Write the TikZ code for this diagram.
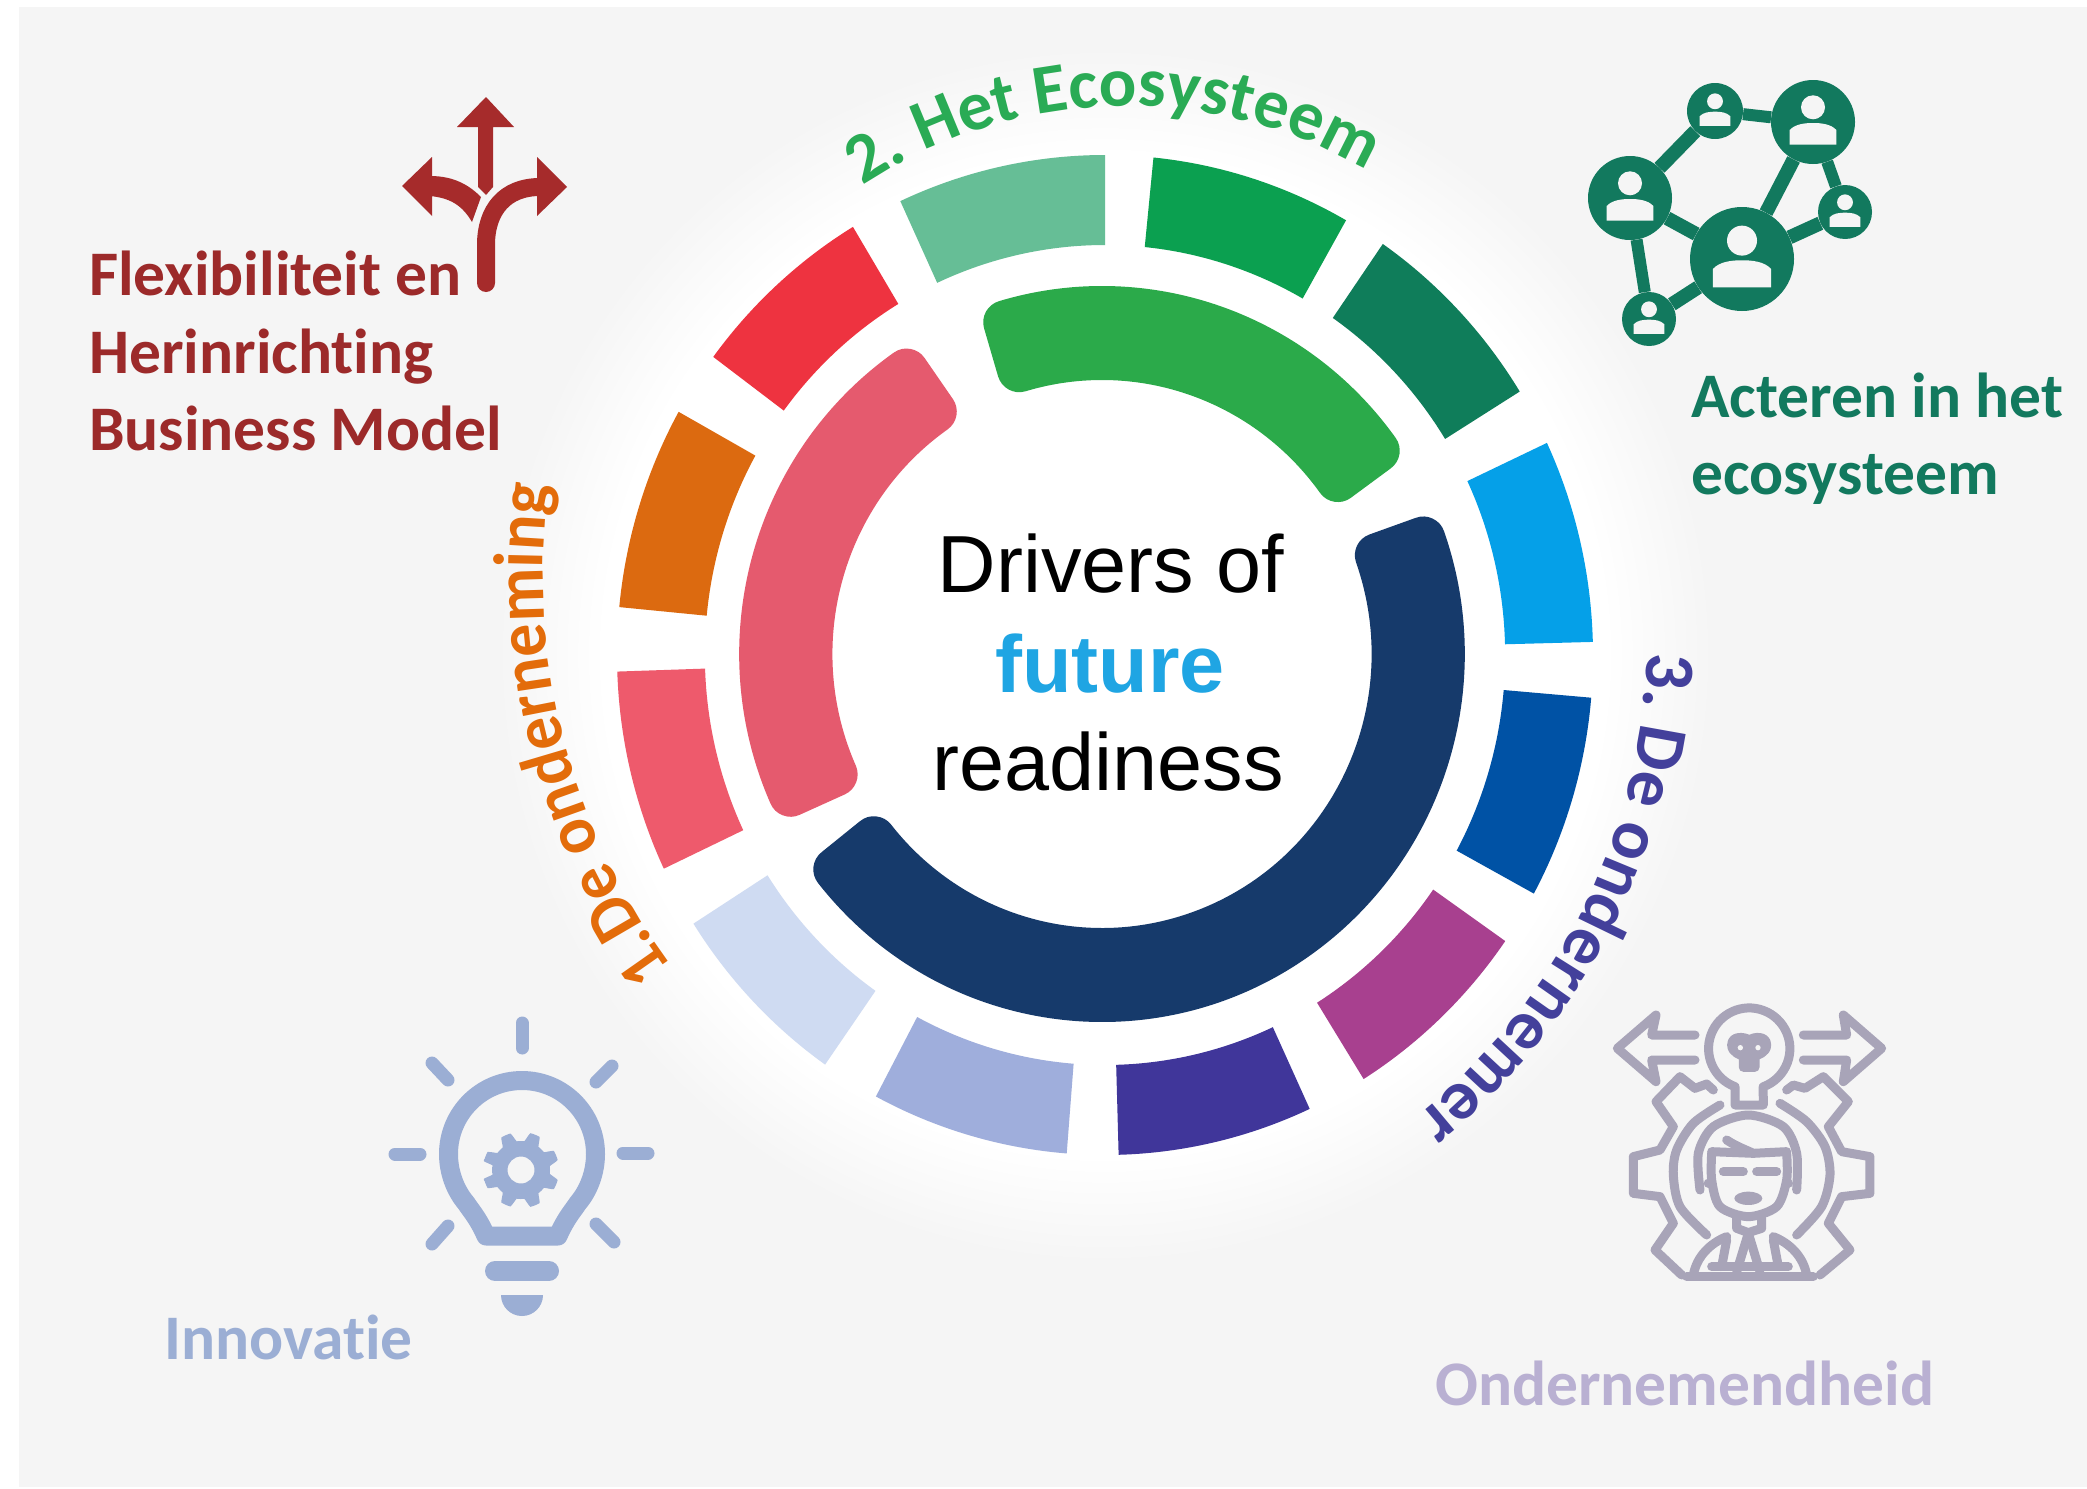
\documentclass[tikz,border=0pt]{standalone}
\usepackage{fontspec}
\setmainfont{Carlito}[Ligatures=NoCommon]
\newfontfamily\hfam{Liberation Sans}
\newfontfamily\arcA{Carlito}[FakeStretch=1.0]
\newfontfamily\arcB{Carlito}[FakeStretch=1.0]
\newfontfamily\arcC{Carlito}[FakeStretch=0.945]
\usetikzlibrary{decorations.text,shapes.geometric}
\definecolor{bgc}{HTML}{F5F5F5}
\definecolor{cFlex}{HTML}{9C2A2A}
\definecolor{cArrow}{HTML}{A62B2B}
\definecolor{cAct}{HTML}{12795E}
\definecolor{cInn}{HTML}{9BAED4}
\definecolor{cOnd}{HTML}{B9B0D2}
\definecolor{cOne}{HTML}{E36C0A}
\definecolor{cTwo}{HTML}{2AAB55}
\definecolor{cThree}{HTML}{43409B}
\definecolor{cIcon}{HTML}{A8A4B8}
\definecolor{cFuture}{HTML}{1FA5E3}
\definecolor{sA}{HTML}{66BE96}
\definecolor{sB}{HTML}{0BA050}
\definecolor{sC}{HTML}{0F7D5A}
\definecolor{sD}{HTML}{05A0E8}
\definecolor{sE}{HTML}{0052A5}
\definecolor{sF}{HTML}{A8408F}
\definecolor{sG}{HTML}{40369A}
\definecolor{sH}{HTML}{9FAEDC}
\definecolor{sI}{HTML}{CFDBF2}
\definecolor{sJ}{HTML}{EE5A6C}
\definecolor{sK}{HTML}{DC6A10}
\definecolor{sL}{HTML}{EE3340}
\definecolor{iG}{HTML}{2BAA4A}
\definecolor{iP}{HTML}{E55A6E}
\definecolor{iN}{HTML}{163A6B}
\pgfdeclareradialshading{glowring}{\pgfpoint{0bp}{0bp}}{rgb(0bp)=(1,1,1);rgb(20.5bp)=(1,1,1);rgb(25bp)=(0.96,0.96,0.96);rgb(50bp)=(0.96,0.96,0.96)}
\newcommand{\seg}[3]{\fill[#3] (#1:410) arc (#1:#2:410) -- (#2:500) arc (#2:#1:500) -- cycle;}
\newcommand{\ringarc}[3]{\filldraw[#3,line width=44pt,line join=round] (#1:296) arc (#1:#2:296) -- (#2:346) arc (#2:#1:346) -- cycle;}
\newcommand{\personglyph}[3]{\begin{scope}[shift={(#1,#2)},scale=#3]
\fill[bgc] (0,14.7) circle (12);
\fill[bgc] (-23.3,-22.7) -- (-23.3,-8) .. controls (-18,-2) and (-8,-1) .. (0,-1) .. controls (8,-1) and (18,-2) .. (23.3,-8) -- (23.3,-22.7) -- cycle;
\end{scope}}
\tikzset{
 lab/.style={anchor=base west,inner sep=0pt,font=\fontsize{63.5}{70}\selectfont\bfseries},
 mid/.style={anchor=base,inner sep=0pt,font=\hfam\fontsize{81}{90}\selectfont},
 netnode/.style={circle,fill=cAct,inner sep=0pt,minimum size=#1},
 netedge/.style={draw=cAct,line width=12pt},
 netwide/.style={draw=cAct,line width=14pt},
 ray/.style={draw=cInn,line width=13pt,line cap=round},
 sketch/.style={draw=cIcon,line width=9pt,line join=round,line cap=round},
}
\begin{document}
\begin{tikzpicture}[x=1pt,y=1pt]
\useasboundingbox (0,0) rectangle (2087,-1488);
\fill[white] (0,0) rectangle (2087,-1488);
\fill[bgc] (19,-7) rectangle (2087,-1487);
\shade[shading=glowring] (1105,-655) circle (610);
% outer segments and inner ring
\begin{scope}[shift={(1105,-655)},xscale=0.976]
\seg{114.8}{90}{sA}
\seg{84.3}{60.4}{sB}
\seg{55.3}{31.8}{sC}
\seg{25.1}{1.5}{sD}
\seg{-4.9}{-28.5}{sE}
\seg{-34.9}{-58}{sF}
\seg{-65.2}{-88.4}{sG}
\seg{-94.5}{-118}{sH}
\seg{-125}{-147.5}{sI}
\seg{-154.7}{-178.1}{sJ}
\seg{174.5}{150.9}{sK}
\seg{143.4}{121.1}{sL}
\end{scope}
\begin{scope}[shift={(1102,-654)},xscale=0.985]
\ringarc{106.5}{36}{iG}
\ringarc{125}{204}{iP}
\ringarc{19.5}{-141.5}{iN}
\end{scope}
% curved titles
\begin{scope}[shift={(1127,-585)}]
\path[decorate,decoration={text along path,text={|\arcA\fontsize{70}{72}\selectfont\bfseries\color{cTwo}|2. Het Ecosysteem}}] (123.5:479) arc (123.5:50:479);
\end{scope}
\begin{scope}[shift={(1030,-636)}]
\path[decorate,decoration={text along path,text={|\arcB\fontsize{71}{72}\selectfont\bfseries\color{cThree}|3. De ondernemer}}] (-1.5:617) arc (-1.5:-60:617);
\end{scope}
\begin{scope}[shift={(1203,-575)}]
\path[decorate,decoration={text along path,text={|\arcC\fontsize{70}{72}\selectfont\bfseries\color{cOne}|1.De onderneming}}] (216.5:660) arc (216.5:160:660);
\end{scope}
% centre text
\node[mid] (t1) at (1111,-592) {Drivers of};
\node[mid] (t2) at (1110,-692) {\bfseries\color{cFuture}future};
\node[mid] (t3) at (1108,-790) {readiness};
% labels
\node[lab,text=cFlex] (l1) at (89,-295) {Flexibiliteit en};
\node[lab,text=cFlex] (l2) at (89,-373) {Herinrichting};
\node[lab,text=cFlex] (l3) at (89,-450) {Business Model};
\node[lab,text=cAct] (l4) at (1691,-417) {Acteren in het};
\node[lab,text=cAct] (l5) at (1691,-494) {ecosysteem};
\node[lab,text=cInn] (l6) at (164,-1359) {Innovatie};
\node[lab,text=cOnd] (l7) at (1435,-1405) {Ondernemendheid};
% network icon
\node[netnode=56pt] (n1) at (1715,-111) {};
\node[netnode=84pt] (n2) at (1813,-122) {};
\node[netnode=84pt] (n3) at (1630,-198) {};
\node[netnode=104pt] (n4) at (1742,-259) {};
\node[netnode=54pt] (n5) at (1845,-212) {};
\node[netnode=54pt] (n6) at (1649,-319) {};
\draw[netwide] (n3) -- (n1);
\draw[netedge] (n1) -- (n2);
\draw[netwide] (n2) -- (n4);
\draw[netedge] (n2) -- (n5);
\draw[netwide] (n4) -- (n5);
\draw[netwide] (n3) -- (n4);
\draw[netedge] (n3) -- (n6);
\draw[netwide] (n6) -- (n4);
\personglyph{1715}{-111}{0.66}
\personglyph{1813}{-122}{1}
\personglyph{1630}{-198}{1}
\personglyph{1742}{-259}{1.25}
\personglyph{1845}{-212}{0.66}
\personglyph{1649}{-319}{0.66}
% bulb icon
\draw[ray] (522,-1023) -- (522,-1048);
\draw[ray] (395,-1154) -- (420,-1154);
\draw[ray] (623,-1153) -- (648,-1153);
\draw[ray] (432,-1063) -- (448,-1080);
\draw[ray] (612,-1066) -- (596,-1082);
\draw[ray] (448,-1226) -- (432,-1244);
\draw[ray] (596,-1224) -- (614,-1242);
\draw[cInn,line width=19pt,line join=round] (486,-1236) .. controls (478,-1218) and (472,-1212) .. (466,-1203) .. controls (455,-1190) and (448.5,-1172) .. (448.5,-1154) arc (180:0:73.5) .. controls (595.5,-1172) and (589,-1190) .. (578,-1203) .. controls (572,-1212) and (566,-1218) .. (558,-1236) -- cycle;
\draw[cInn,line width=20pt,line cap=round] (495,-1271) -- (549,-1271);
\fill[cInn] (501,-1295) arc (180:360:21) -- cycle;
\fill[cInn,even odd rule] plot[samples=96,domain=0:360,smooth cycle] ({521+(abs(mod(\x,45)-22.5)<9.5?38:(abs(mod(\x,45)-22.5)<13?33:29))*cos(\x)},{-1170+(abs(mod(\x,45)-22.5)<9.5?38:(abs(mod(\x,45)-22.5)<13?33:29))*sin(\x)}) (521,-1170) circle (13.5);
% fork arrow icon
\fill[cArrow] (486,-97) -- (514,-127) -- (493,-127) -- (493,-187) -- (486,-195) -- (478,-187) -- (478,-127) -- (457,-127) -- cycle;
\draw[cArrow,line width=18pt,line cap=round] (486,-283) -- (486,-245) .. controls (486,-210) and (505,-187) .. (540,-187);
\fill[cArrow] (567,-187) -- (537,-157) -- (537,-216) -- cycle;
\fill[cArrow] (402,-186) -- (432,-157) -- (432,-216) -- cycle;
\fill[cArrow] (430,-176) .. controls (455,-176) and (470,-186) .. (481,-197) -- (472,-222) .. controls (462,-205) and (450,-198) .. (430,-196) -- cycle;
% entrepreneur icon
\begin{scope}[shift={(1580,-980)},x=0.3333pt,y=-0.3333pt]
\draw[sketch] (345,165) -- (215,165) -- (228,105) -- (112,205) -- (228,305) -- (215,240) -- (345,240);
\draw[sketch] (670,165) -- (800,165) -- (790,105) -- (905,205) -- (790,305) -- (800,240) -- (670,240);
\draw[sketch] (465,375) -- (465,320) arc (110.5:430:122) -- (550,375) -- cycle;
\draw[sketch,fill=cIcon] (455,195) .. controls (455,165) and (495,170) .. (508,180) .. controls (520,170) and (560,165) .. (560,195) .. controls (560,220) and (530,225) .. (525,230) -- (525,262) -- (490,262) -- (490,230) .. controls (485,225) and (455,220) .. (455,195) -- cycle;
\fill[bgc] (481,203) circle (8);
\fill[bgc] (534,203) circle (8);
\draw[sketch] (400,330) -- (380,312) -- (345,325) -- (300,290) -- (228,365) -- (280,440) -- (240,510) -- (160,530) -- (160,640) -- (240,650) -- (280,730) -- (225,810) -- (305,885);
\draw[sketch] (620,330) -- (640,315) -- (675,325) -- (730,290) -- (805,365) -- (745,440) -- (785,515) -- (870,530) -- (870,640) -- (785,650) -- (745,730) -- (810,810) -- (720,885);
\draw[sketch] plot[smooth] coordinates {(420,375) (340,430) (290,510) (280,585) (300,680) (380,765)};
\draw[sketch] plot[smooth] coordinates {(600,370) (680,425) (735,500) (750,585) (725,680) (650,765)};
\draw[sketch] plot[smooth] coordinates {(360,630) (355,520) (400,440) (505,405) (610,440) (650,520) (650,630)};
\draw[sketch] plot[smooth] coordinates {(395,520) (395,600) (420,680) (505,710) (590,680) (620,600) (620,520)};
\draw[sketch] (395,515) -- (520,520) -- (620,515);
\draw[sketch] (440,480) .. controls (470,500) and (500,510) .. (520,520);
\draw[sketch] (430,575) -- (490,575);
\draw[sketch] (530,575) -- (590,575);
\fill[cIcon] (505,655) ellipse [x radius=42, y radius=20];
\fill[cIcon] (385,610) circle (14);
\fill[cIcon] (625,610) circle (14);
\draw[sketch] (470,715) -- (470,745) -- (505,758) -- (545,745) -- (545,715);
\draw[sketch] (320,890) -- (700,890);
\draw[sketch] (340,885) .. controls (350,830) and (390,790) .. (440,770);
\draw[sketch] (680,885) .. controls (670,830) and (630,790) .. (580,770);
\draw[sketch] (440,780) -- (425,860);
\draw[sketch] (580,780) -- (595,860);
\draw[sketch] (505,760) -- (470,875);
\draw[sketch] (505,760) -- (540,875);
\draw[sketch] (395,860) -- (625,860);
\end{scope}
\end{tikzpicture}
\end{document}
